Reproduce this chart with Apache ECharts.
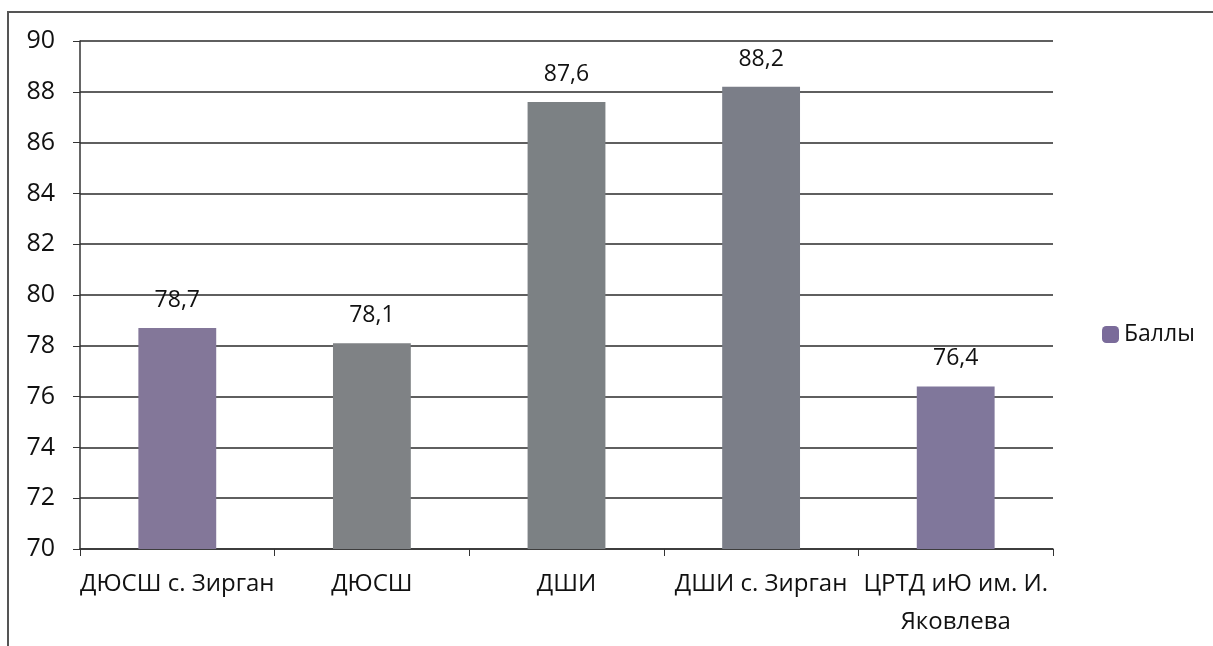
<!DOCTYPE html>
<html>
<head>
<meta charset="utf-8">
<script src="https://cdn.jsdelivr.net/npm/echarts@6/dist/echarts.min.js"></script>
<style>
  html, body { margin: 0; padding: 0; background: #fff; }
  #frame {
    position: absolute; left: 7px; top: 11px; width: 1206px; height: 635px;
    border-left: 2px solid #555; border-top: 2px solid #555;
  }
  #chart { position: absolute; left: 0; top: 0; width: 1213px; height: 646px; }
</style>
</head>
<body>
<div id="frame"></div>
<div id="chart"></div>
<script>
  // категории и значения
  var categories = ['ДЮСШ с. Зирган', 'ДЮСШ', 'ДШИ', 'ДШИ с. Зирган', 'ЦРТД иЮ им. И.\nЯковлева']
  var scores = [78.7, 78.1, 87.6, 88.2, 76.4]
  var seriesName = 'Баллы'
  // оттенки столбцов (скан)
  var barColors = ['#837799', '#7f8285', '#7c8184', '#7b7e88', '#80779b']

  var chart = echarts.init(document.getElementById('chart'), null, { renderer: 'canvas' })
  var font = '"Open Sans", sans-serif'

  var option = {
    animation: false,
    textStyle: { fontFamily: font },
    grid: { left: 80, right: 160, top: 41, bottom: 97, containLabel: false },
    legend: {
      data: [{ name: seriesName, itemStyle: { color: '#7a6b9a' } }],
      orient: 'vertical',
      left: 1097,
      top: 318,
      itemWidth: 17,
      itemHeight: 17,
      itemGap: 6,
      textStyle: { fontSize: 23, color: '#111', fontFamily: font }
    },
    xAxis: {
      type: 'category',
      data: categories,
      axisLine: { lineStyle: { color: '#333', width: 1.5 } },
      axisTick: { show: true, length: 7, lineStyle: { color: '#333' } },
      axisLabel: {
        color: '#111', fontSize: 24, fontFamily: font, margin: 16,
        interval: 0, lineHeight: 38
      }
    },
    yAxis: {
      type: 'value',
      min: 70,
      max: 90,
      interval: 2,
      axisLine: { show: true, lineStyle: { color: '#333', width: 1.5 } },
      axisTick: { show: true, length: 7, lineStyle: { color: '#333' } },
      axisLabel: { color: '#111', fontSize: 25, fontFamily: font, margin: 25 },
      splitLine: { lineStyle: { color: '#2a2a2a', width: 1.5 } }
    },
    series: [{
      name: seriesName,
      type: 'bar',
      barWidth: '40%',
      data: scores.map(function (v, i) {
        return { value: v, itemStyle: { color: barColors[i] } }
      }),
      label: {
        show: true,
        position: 'top',
        distance: 16,
        color: '#111',
        fontSize: 23,
        fontFamily: font,
        formatter: function (p) { return String(p.value).replace('.', ',') }
      }
    }]
  }
  chart.setOption(option)
</script>
</body>
</html>
